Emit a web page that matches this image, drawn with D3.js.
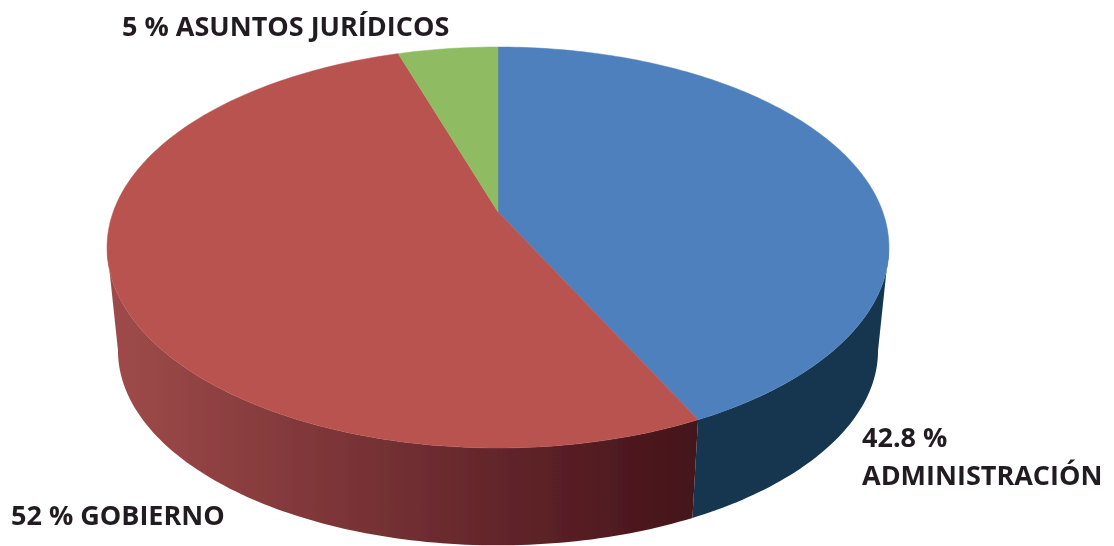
<!DOCTYPE html>
<html>
<head>
<meta charset="utf-8">
<script src="https://cdn.jsdelivr.net/npm/d3@7"></script>
<style>
  html, body { margin: 0; background: #fff; overflow: hidden; }
  text { font-family: "Open Sans", sans-serif; font-weight: 700; fill: #231f20; }
</style>
</head>
<body>
<div id="chart"></div>
<script>
const categories = ["ADMINISTRACIÓN", "GOBIERNO", "ASUNTOS JURÍDICOS"];
// slice sizes as measured in the picture, they differ a little from the printed labels
const values = [42.8, 52.3, 4.9];
const topColors = ["#4e80bc", "#b85350", "#8fbb63"];
const wallColors = [["#14344f", "#14344f"], ["#a04b4a", "#43121a"], ["#6a8a45", "#6a8a45"]];
const labelLines = [["42.8 %", "ADMINISTRACIÓN"], ["52 % GOBIERNO"], ["5 % ASUNTOS JURÍDICOS"]];
const labelAnchors = [[862, 447], [11, 525], [122, 36]];

const width = 1114;
const height = 546;
const cx = 498;
const fontSize = 27;
const lineGap = 38;

// perspective disc: k tilts the front towards the viewer
const k = 0.177;
const rx = 384.8;
const ry = 194.2;
const topDisc = { y: 212, s: 1 };
const bottomDisc = { y: 316, s: 0.972 };

function project(angle, disc) {
  const u = Math.sin(angle);
  const v = -Math.cos(angle);
  const d = 1 - k * v;
  return [cx + (disc.s * rx * u) / d, disc.y + (disc.s * ry * v) / d];
}

function rim(a0, a1, disc) {
  return d3
    .range(a0, a1, Math.PI / 180)
    .concat([a1])
    .map((a) => project(a, disc));
}

const svg = d3
  .select("#chart")
  .append("svg")
  .attr("width", width)
  .attr("height", height)
  .style("display", "block");

const defs = svg.append("defs");
// the reference is a slightly soft raster
defs
  .append("filter")
  .attr("id", "soft")
  .append("feGaussianBlur")
  .attr("stdDeviation", 0.45);

const slices = d3.pie().sort(null)(values);
const line = d3.line();
// the wall is seen between the two silhouette tangents of the disc
const wallStart = Math.PI / 2 + Math.asin(k);
const wallEnd = (3 * Math.PI) / 2 - Math.asin(k);
const wallX = [107, 698];

const pie = svg.append("g").attr("filter", "url(#soft)");

// side wall
slices.forEach((s) => {
  const a0 = Math.max(s.startAngle, wallStart);
  const a1 = Math.min(s.endAngle, wallEnd);
  if (a1 <= a0) return;
  const grad = defs
    .append("linearGradient")
    .attr("id", `wall${s.index}`)
    .attr("gradientUnits", "userSpaceOnUse")
    .attr("x1", wallX[0])
    .attr("x2", wallX[1])
    .attr("y1", 0)
    .attr("y2", 0);
  grad.append("stop").attr("offset", 0).attr("stop-color", wallColors[s.index][0]);
  grad.append("stop").attr("offset", 1).attr("stop-color", wallColors[s.index][1]);
  const pts = rim(a0, a1, topDisc).concat(rim(a0, a1, bottomDisc).reverse());
  pie
    .append("path")
    .attr("d", line(pts) + "Z")
    .attr("fill", `url(#wall${s.index})`);
});

// top face
pie
  .selectAll("path.top")
  .data(slices)
  .join("path")
  .attr("class", "top")
  .attr("data-category", (d) => categories[d.index])
  .attr("fill", (d) => topColors[d.index])
  .attr("stroke", (d) => topColors[d.index])
  .attr("stroke-width", 0.5)
  .attr("d", (d) => line([[cx, topDisc.y]].concat(rim(d.startAngle, d.endAngle, topDisc))) + "Z");

// labels
labelLines.forEach((lines, i) => {
  svg
    .append("g")
    .attr("filter", "url(#soft)")
    .selectAll("text")
    .data(lines)
    .join("text")
    .attr("x", labelAnchors[i][0])
    .attr("y", (d, j) => labelAnchors[i][1] + j * lineGap)
    .attr("font-size", fontSize)
    .text((d) => d);
});
</script>
</body>
</html>
